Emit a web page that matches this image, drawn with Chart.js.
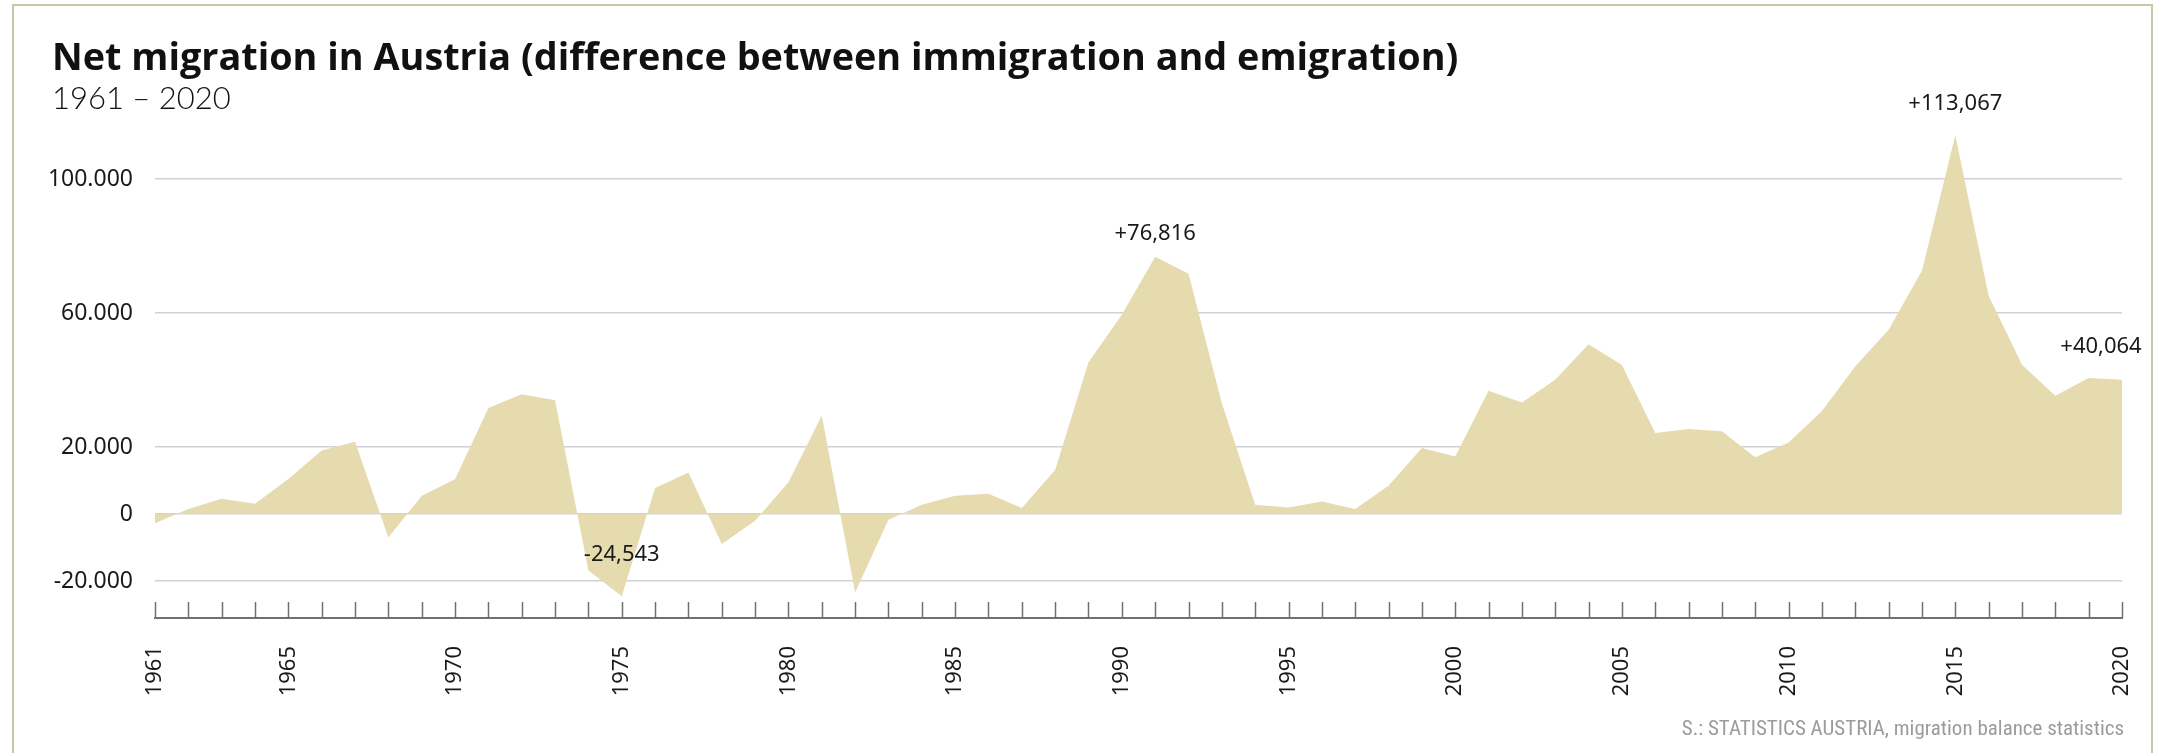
<!DOCTYPE html>
<html>
<head>
<meta charset="utf-8">
<script src="https://cdn.jsdelivr.net/npm/chart.js@4.4.1/dist/chart.umd.min.js"></script>
<style>
  html, body { margin: 0; padding: 0; background: #fff; }
  #wrap { position: relative; width: 2181px; height: 753px; overflow: hidden; }
  #frame { position: absolute; left: 12px; top: 4px; width: 2141px; height: 760px; border: 2px solid #cbc6a4; box-sizing: border-box; }
  #title { position: absolute; left: 52px; top: 37px; font: 700 37.8px "Open Sans", sans-serif; line-height: 1; color: #111; white-space: nowrap; }
  #subtitle { position: absolute; left: 52px; top: 82px; font: 300 31px Lato, sans-serif; line-height: 1; color: #111; white-space: nowrap; }
  #source { position: absolute; right: 57px; top: 718px; font: 21px "Liberation Sans Narrow", "Roboto Condensed", sans-serif; line-height: 1; color: #9b9b9b; white-space: nowrap; }
  canvas { position: absolute; left: 0; top: 0; }
</style>
</head>
<body>
<div id="wrap">
  <div id="frame"></div>
  <canvas id="chart" width="2181" height="753"></canvas>
  <div id="title">Net migration in Austria (difference between immigration and emigration)</div>
  <div id="subtitle">1961 – 2020</div>
  <div id="source">S.: STATISTICS AUSTRIA, migration balance statistics</div>
</div>
<script>
// years on the x axis
const years = [
  '1961','1962','1963','1964','1965','1966','1967','1968','1969','1970',
  '1971','1972','1973','1974','1975','1976','1977','1978','1979','1980',
  '1981','1982','1983','1984','1985','1986','1987','1988','1989','1990',
  '1991','1992','1993','1994','1995','1996','1997','1998','1999','2000',
  '2001','2002','2003','2004','2005','2006','2007','2008','2009','2010',
  '2011','2012','2013','2014','2015','2016','2017','2018','2019','2020'
];

// net migration (persons)
const netMigration = [
  -2700, 1500, 4600, 3100, 10500, 19000, 21600, -7000, 5500, 10400,
  31700, 35800, 34000, -16800, -24543, 7800, 12400, -8900, -2000, 9500,
  29400, -23400, -1700, 2800, 5500, 6100, 1800, 13200, 45300, 59500,
  76816, 71700, 33100, 2800, 2000, 3800, 1500, 8500, 19700, 17200,
  36800, 33300, 40100, 50700, 44500, 24200, 25400, 24700, 17000, 21400,
  30800, 44100, 55000, 72600, 113067, 65200, 44600, 35300, 40600, 40064
];

// y axis tick values and labels
const yTicks = [-20000, 0, 20000, 60000, 100000];
const yTickLabels = ['-20.000', '0', '20.000', '60.000', '100.000'];

// labelled points
const calloutYears = ['1975', '1991', '2015', '2020'];
const calloutTexts = ['-24,543', '+76,816', '+113,067', '+40,064'];

// callout placement relative to the point (pixels)
const calloutOffsets = {
  '1975': { dx: 0, dy: -35 },
  '1991': { dx: 0, dy: -17 },
  '2015': { dx: 0, dy: -25 },
  '2020': { dx: -21, dy: -27 }
};

const tickMarks = {
  id: 'tickMarks',
  afterDraw(chart) {
    const { ctx, chartArea, scales: { x } } = chart;
    ctx.save();
    ctx.strokeStyle = '#707070';
    ctx.lineWidth = 1.5;
    years.forEach((yr, i) => {
      const px = Math.round(x.getPixelForValue(i)) + 0.5;
      ctx.beginPath();
      ctx.moveTo(px, chartArea.bottom);
      ctx.lineTo(px, chartArea.bottom - 16);
      ctx.stroke();
    });
    ctx.restore();
  }
};

const callouts = {
  id: 'callouts',
  afterDraw(chart) {
    const { ctx, scales: { x, y } } = chart;
    ctx.save();
    ctx.font = '22px "Noto Sans", sans-serif';
    ctx.fillStyle = '#1a1a1a';
    ctx.textAlign = 'center';
    ctx.textBaseline = 'alphabetic';
    calloutYears.forEach((yr, k) => {
      const i = years.indexOf(yr);
      const off = calloutOffsets[yr];
      const px = x.getPixelForValue(i) + off.dx;
      const py = y.getPixelForValue(netMigration[i]) + off.dy;
      ctx.fillText(calloutTexts[k], px, py);
    });
    ctx.restore();
  }
};

const ctx = document.getElementById('chart');

new Chart(ctx, {
  type: 'line',
  data: {
    labels: years,
    datasets: [{
      label: 'Net migration',
      data: netMigration,
      fill: 'origin',
      backgroundColor: '#e6dbaf',
      borderWidth: 0,
      pointRadius: 0,
      tension: 0
    }]
  },
  options: {
    responsive: false,
    animation: false,
    events: [],
    layout: { padding: { top: 112, right: 59, left: 0, bottom: 0 } },
    plugins: {
      legend: { display: false },
      tooltip: { enabled: false }
    },
    scales: {
      x: {
        offset: false,
        grid: { display: false },
        border: { display: true, color: '#707070', width: 2 },
        ticks: {
          autoSkip: false,
          minRotation: 90,
          maxRotation: 90,
          padding: 20,
          color: '#1a1a1a',
          font: { family: '"Noto Sans", sans-serif', size: 22 },
          callback: function (v, i) {
            const yr = years[i];
            return (yr === '1961' || Number(yr) % 5 === 0) ? yr : '';
          }
        },
        afterFit: function (scale) { scale.height = 135; }
      },
      y: {
        min: -31000,
        max: 120000,
        z: 1,
        border: { display: false },
        grid: { color: 'rgba(170, 170, 185, 0.55)', lineWidth: 1.5, drawTicks: false },
        ticks: {
          padding: 22,
          color: '#1a1a1a',
          font: { family: '"Noto Sans", sans-serif', size: 23 },
          callback: function (v) {
            const k = yTicks.indexOf(v);
            return k >= 0 ? yTickLabels[k] : '';
          }
        },
        afterBuildTicks: function (scale) {
          scale.ticks = yTicks.map(v => ({ value: v }));
        },
        afterFit: function (scale) { scale.width = 155; }
      }
    }
  },
  plugins: [tickMarks, callouts]
});
</script>
</body>
</html>
